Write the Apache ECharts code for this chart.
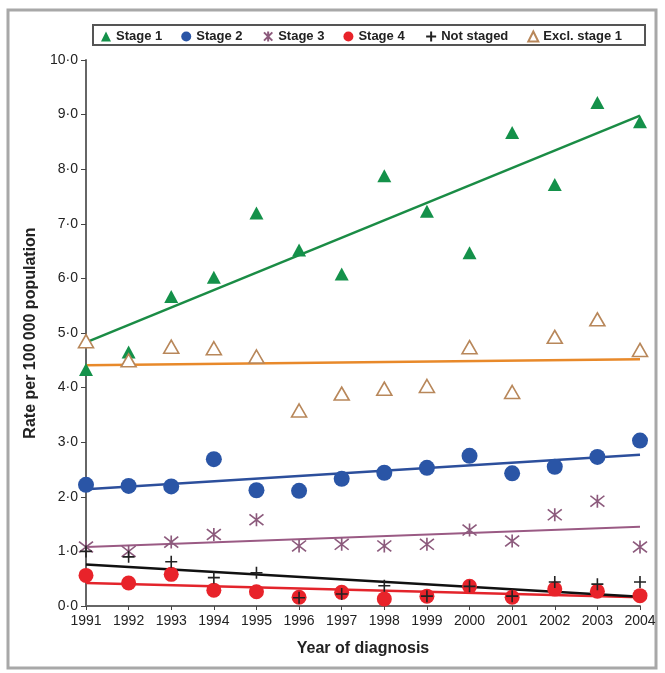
<!DOCTYPE html>
<html>
<head>
<meta charset="utf-8">
<script src="https://cdn.jsdelivr.net/npm/echarts@6/dist/echarts.min.js"></script>
<style>
html,body{margin:0;padding:0;background:#fff;}
#chart{width:665px;height:673px;}
</style>
</head>
<body>
<div id="chart"></div>
<script>
// ---- data ----
var years = [1991, 1992, 1993, 1994, 1995, 1996, 1997, 1998, 1999, 2000, 2001, 2002, 2003, 2004];
var stage1 = [4.33, 4.65, 5.67, 6.02, 7.20, 6.52, 6.08, 7.88, 7.23, 6.47, 8.67, 7.72, 9.22, 8.87];
var stage2 = [2.22, 2.20, 2.19, 2.69, 2.12, 2.11, 2.33, 2.44, 2.53, 2.75, 2.43, 2.55, 2.73, 3.03];
var stage3 = [1.08, 1.00, 1.17, 1.31, 1.58, 1.10, 1.13, 1.10, 1.13, 1.39, 1.19, 1.67, 1.92, 1.08];
var stage4 = [0.56, 0.42, 0.58, 0.29, 0.26, 0.16, 0.25, 0.13, 0.18, 0.36, 0.16, 0.31, 0.27, 0.19];
var notStaged = [1.00, 0.90, 0.81, 0.52, 0.61, 0.15, 0.22, 0.37, 0.18, 0.36, 0.18, 0.44, 0.40, 0.44];
var exclStage1 = [4.85, 4.50, 4.75, 4.72, 4.57, 3.58, 3.89, 3.98, 4.03, 4.74, 3.92, 4.93, 5.25, 4.69];
// fitted trend lines: value at first and last year
var trendYears = [1991, 2004];
var trend1 = [4.83, 8.98];
var trend2 = [2.14, 2.77];
var trend3 = [1.08, 1.45];
var trend4 = [0.42, 0.16];
var trendNS = [0.76, 0.17];
var trendExcl = [4.41, 4.52];
var seriesNames = ['Stage 1', 'Stage 2', 'Stage 3', 'Stage 4', 'Not staged', 'Excl. stage 1'];

function pts(vals) { return years.map(function (y, i) { return [y, vals[i]]; }); }
function tl(vals) { return trendYears.map(function (y, i) { return [y, vals[i]]; }); }

var STAR = 'path://M0,0L10,10M10,0L0,10M5,-1L5,11';
var PLUS = 'path://M5,0L5,10M0,5L10,5';

function trendSeries(vals, color, w) {
  return {
    type: 'line', data: tl(vals), symbol: 'none', silent: true, z: 2,
    lineStyle: { color: color, width: w || 2.5 }
  };
}

var chart = echarts.init(document.getElementById('chart'), null, { renderer: 'canvas' });
var FONT = '"Liberation Sans", Arial, sans-serif';
chart.setOption({
  animation: false,
  backgroundColor: '#fff',
  graphic: [
    { type: 'rect', shape: { x: 8, y: 10, width: 648, height: 658 }, style: { fill: 'none', stroke: '#a8a8a8', lineWidth: 3 }, z: 0 },
    { type: 'rect', shape: { x: 93, y: 25, width: 552, height: 20 }, style: { fill: '#fff', stroke: '#555', lineWidth: 2 }, z: 0 }
  ],
  legend: {
    data: seriesNames,
    left: 101, top: 29,
    itemWidth: 10, itemHeight: 10, itemGap: 19,
    textStyle: { fontFamily: FONT, fontWeight: 'bold', fontSize: 13, color: '#222' },
    padding: 0
  },
  grid: { left: 86, right: 25, top: 60, bottom: 67, containLabel: false },
  xAxis: {
    type: 'value', min: 1991, max: 2004, interval: 1,
    name: 'Year of diagnosis', nameLocation: 'middle', nameGap: 35,
    nameTextStyle: { fontFamily: FONT, fontWeight: 'bold', fontSize: 16, color: '#222' },
    axisLine: { lineStyle: { color: '#666', width: 2 } },
    axisTick: { show: true, length: 4, lineStyle: { color: '#444', width: 1 } },
    axisLabel: { fontFamily: FONT, fontSize: 14, color: '#222', margin: 8, formatter: function (v) { return String(v); } },
    splitLine: { show: false }
  },
  yAxis: {
    type: 'value', min: 0, max: 10, interval: 1,
    name: 'Rate per 100\u2009000 population', nameLocation: 'middle', nameGap: 47,
    nameTextStyle: { fontFamily: FONT, fontWeight: 'bold', fontSize: 16, color: '#222' },
    axisLine: { show: true, lineStyle: { color: '#666', width: 2 } },
    axisTick: { show: true, length: 5, lineStyle: { color: '#444', width: 1 } },
    axisLabel: { fontFamily: FONT, fontSize: 14, color: '#222', margin: 8,
      formatter: function (v) { return v.toFixed(1).replace('.', '\u00b7'); } },
    splitLine: { show: false }
  },
  series: [
    trendSeries(trendExcl, '#e8892a'),
    trendSeries(trend1, '#1a8c45'),
    trendSeries(trend2, '#2c4f9c'),
    trendSeries(trend3, '#9a5a84', 2),
    trendSeries(trend4, '#e3242b'),
    trendSeries(trendNS, '#111'),
    { name: 'Stage 1', type: 'scatter', data: pts(stage1), symbol: 'triangle', symbolSize: [14, 13], z: 3,
      itemStyle: { color: '#14914a', opacity: 1 } },
    { name: 'Stage 2', type: 'scatter', data: pts(stage2), symbol: 'circle', symbolSize: 16, z: 3,
      itemStyle: { color: '#2a55a6', opacity: 1 } },
    { name: 'Stage 3', type: 'scatter', data: pts(stage3), symbol: STAR, symbolSize: [14, 13], z: 3,
      itemStyle: { color: 'none', borderColor: '#8c5a7c', borderWidth: 1.6, opacity: 1 } },
    { name: 'Stage 4', type: 'scatter', data: pts(stage4), symbol: 'circle', symbolSize: 15, z: 3,
      itemStyle: { color: '#e8232a', opacity: 1 } },
    { name: 'Not staged', type: 'scatter', data: pts(notStaged), symbol: PLUS, symbolSize: 12, z: 4,
      itemStyle: { color: 'none', borderColor: '#222', borderWidth: 1.6, opacity: 1 } },
    { name: 'Excl. stage 1', type: 'scatter', data: pts(exclStage1), symbol: 'triangle', symbolSize: [15, 13], z: 3,
      itemStyle: { color: '#fff', borderColor: '#b8875a', borderWidth: 1.6, opacity: 1 } }
  ]
});
</script>
</body>
</html>
